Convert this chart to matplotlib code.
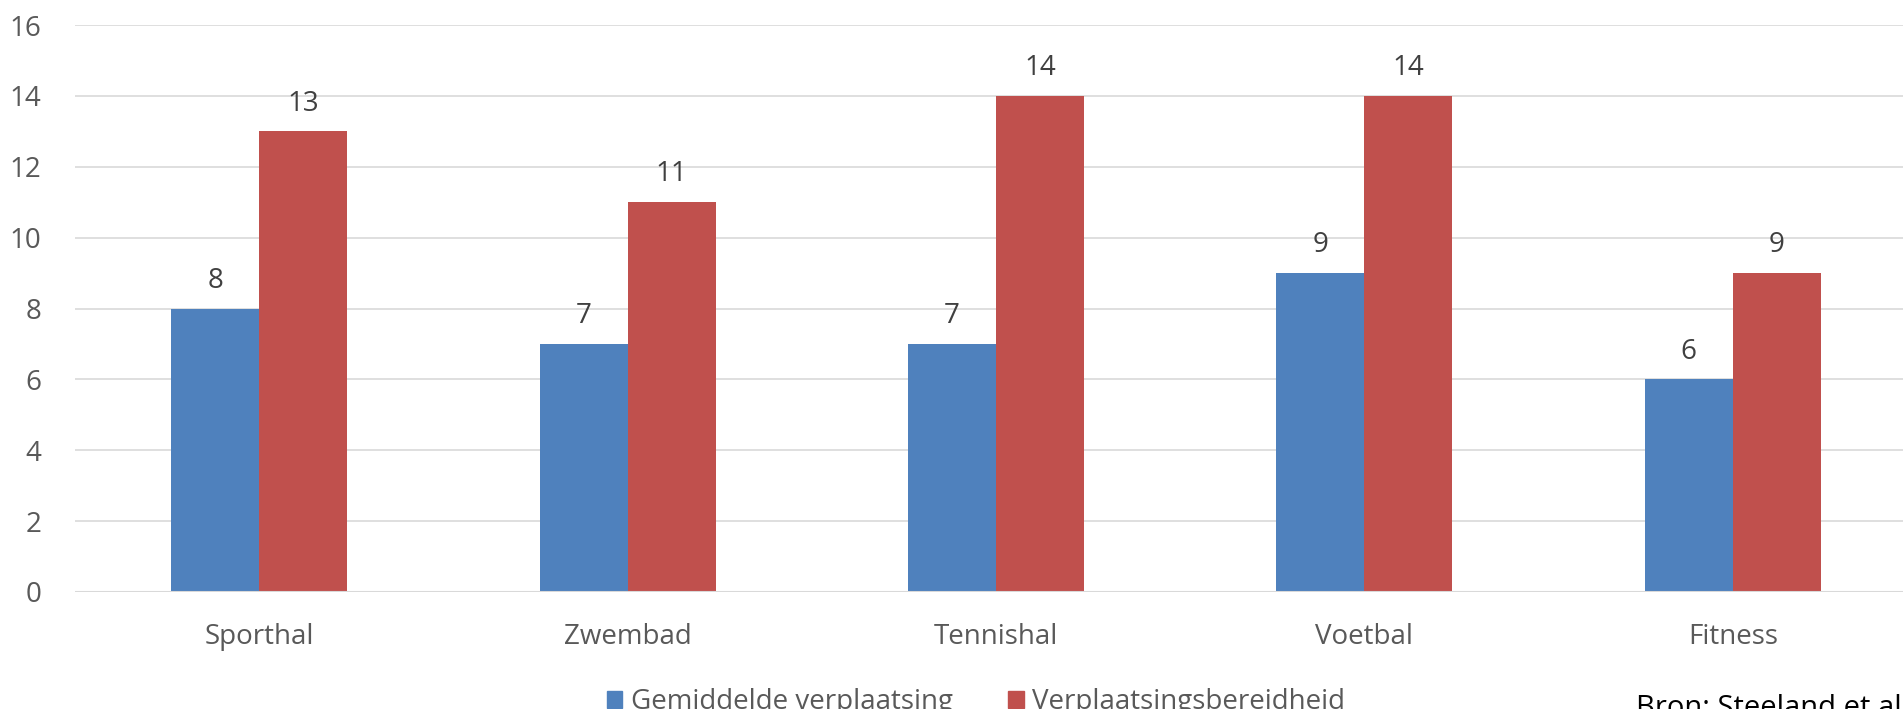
import numpy as np
import matplotlib.pyplot as plt
from matplotlib.patches import Patch

plt.rcParams['font.family'] = ['Open Sans', 'DejaVu Sans']

# data
categories = ['Sporthal', 'Zwembad', 'Tennishal', 'Voetbal', 'Fitness']
gemiddeld = [8, 7, 7, 9, 6]
bereidheid = [13, 11, 14, 14, 9]
series_names = ['Gemiddelde verplaatsing', 'Verplaatsingsbereidheid']
yticks = [0, 2, 4, 6, 8, 10, 12, 14, 16]

blue = '#4F81BD'
red = '#C0504D'
txt = '#595959'

W, H = 1903, 709
fig = plt.figure(figsize=(W / 100, H / 100), dpi=100)
ax = fig.add_axes([75 / W, (H - 592) / H, 1828 / W, 567 / H])

x = np.arange(len(categories))
bw = 0.239
b1 = ax.bar(x - bw / 2, gemiddeld, bw, color=blue, zorder=3)
b2 = ax.bar(x + bw / 2, bereidheid, bw, color=red, zorder=3)

for bars, vals in ((b1, gemiddeld), (b2, bereidheid)):
    for r, v in zip(bars, vals):
        ax.annotate(str(v), (r.get_x() + r.get_width() / 2, v),
                    xytext=(0, 20), textcoords='offset points',
                    ha='center', va='center', fontsize=20, color='#404040')

ax.set_xlim(-0.5, 4.462)
ax.set_ylim(0, 16)
ax.set_yticks(yticks)
ax.set_xticks(x)
ax.set_xticklabels(categories)
ax.yaxis.grid(True, color='#D9D9D9', linewidth=1.2, zorder=0)
ax.set_axisbelow(True)
for s in ax.spines.values():
    s.set_visible(False)
ax.axhline(0, color='#D9D9D9', linewidth=1.5, zorder=4)
ax.tick_params(axis='both', length=0, labelsize=20, colors=txt)
ax.tick_params(axis='y', pad=24)
ax.tick_params(axis='x', pad=22)

handles = [Patch(color=blue), Patch(color=red)]
leg = fig.legend(handles, series_names, loc='center',
                 bbox_to_anchor=(976 / W, 1 - 702 / H), ncol=2, frameon=False,
                 fontsize=20, handlelength=0.55, handleheight=0.55,
                 handletextpad=0.3, columnspacing=2.0)
for t in leg.get_texts():
    t.set_color(txt)

fig.text(1636 / W, 1 - 694 / H, 'Bron: Steeland et al', fontsize=21,
         color='black', ha='left', va='top')

fig.savefig('out.png', dpi=100)
